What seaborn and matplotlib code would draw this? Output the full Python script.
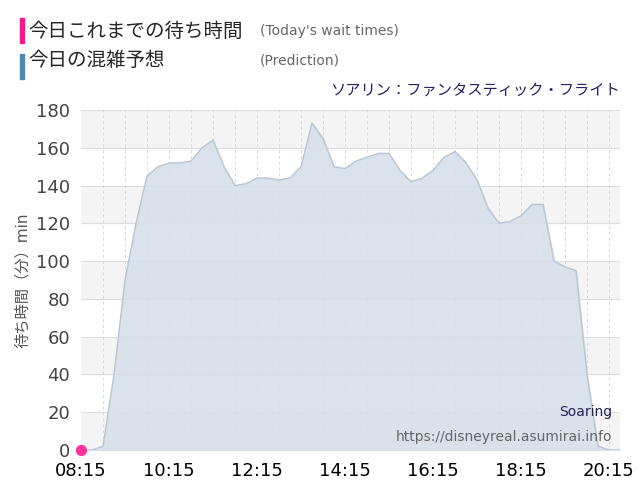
import pandas as pd
import matplotlib.pyplot as plt
import seaborn as sns
import numpy as np

# prediction, every 15 min from 08:15
pred = [0, 0, 2, 40, 90, 120, 145, 150, 152, 152, 153, 160, 164, 150, 140, 141, 144, 144, 143,
        144, 150, 173, 165, 150, 149, 153, 155, 157, 157, 148, 142, 144, 148, 155, 158, 152,
        143, 128, 120, 121, 124, 130, 130, 100, 97, 95, 40, 2, 0, 0]
actual_t = [0.0]
actual_v = [0]
tick_labels = ["08:15", "10:15", "12:15", "14:15", "16:15", "18:15", "20:15"]

t = np.arange(len(pred)) * 0.25
df = pd.DataFrame({"t": t, "v": pred})

sns.set_style("white")
plt.rcParams['font.family'] = ['DejaVu Sans', 'Noto Sans CJK JP']

fig = plt.figure(figsize=(6.4, 5), dpi=100)
ax = fig.add_axes([81 / 640, 50 / 500, 539 / 640, 340 / 500])

for i in range(9):
    ax.axhspan(i * 20, (i + 1) * 20, color="#f4f4f4" if i % 2 == 0 else "#ffffff", zorder=0)
for y in range(0, 181, 20):
    ax.axhline(y, color="#dddddd", lw=0.8, zorder=1)
for x in np.arange(0.5, 12.5, 0.5):
    ax.axvline(x, color="#d8d8d8", lw=0.7, ls=(0, (3, 3)), zorder=1)

ax.fill_between(df.t, df.v, color="#d6e0ea", alpha=0.9, zorder=2)
sns.lineplot(data=df, x="t", y="v", ax=ax, color="#b8c6d4", lw=1, zorder=3)
ax.scatter(actual_t, actual_v, s=50, color="#ff3399", zorder=5, clip_on=False)

ax.set_xlim(0, 12.25)
ax.set_ylim(0, 180)
ax.set_xticks(np.arange(0, 13, 2))
ax.set_xticklabels(tick_labels, fontsize=13, color="black")
ax.set_yticks(range(0, 181, 20))
ax.tick_params(axis="y", labelsize=13, labelcolor="#444444", length=0, pad=8)
ax.tick_params(axis="x", length=0, pad=9)
ax.set_xlabel("")
ax.set_ylabel("待ち時間（分）min", fontsize=11, color="#555555", labelpad=4)
sns.despine(ax=ax, left=True, bottom=True, top=True, right=True)

ax.text(0.985, 0.1, "Soaring", transform=ax.transAxes, ha="right", fontsize=10, color="#222255")
ax.text(0.985, 0.025, "https://disneyreal.asumirai.info", transform=ax.transAxes, ha="right",
        fontsize=10, color="#666666")

fig.patches.append(plt.Rectangle((20 / 640, 1 - 43 / 500), 4 / 640, 25 / 500, color="#ff1493",
                                 transform=fig.transFigure))
fig.patches.append(plt.Rectangle((20 / 640, 1 - 79 / 500), 4 / 640, 25 / 500, color="#4f88b8",
                                 transform=fig.transFigure))
fig.text(28 / 640, 1 - 31 / 500, "今日これまでの待ち時間", fontsize=14, va="center",
         family=['Noto Sans CJK JP', 'DejaVu Sans'])
fig.text(28 / 640, 1 - 61 / 500, "今日の混雑予想", fontsize=14, va="center",
         family=['Noto Sans CJK JP', 'DejaVu Sans'])
fig.text(260 / 640, 1 - 31 / 500, "(Today's wait times)", fontsize=10, va="center", color="#666666")
fig.text(260 / 640, 1 - 61 / 500, "(Prediction)", fontsize=10, va="center", color="#666666")
fig.text(620 / 640, 1 - 90 / 500, "ソアリン：ファンタスティック・フライト", fontsize=11, ha="right",
         va="center", color="#222266", family=['Noto Sans CJK JP', 'DejaVu Sans'])

fig.savefig("out.png", dpi=100)
